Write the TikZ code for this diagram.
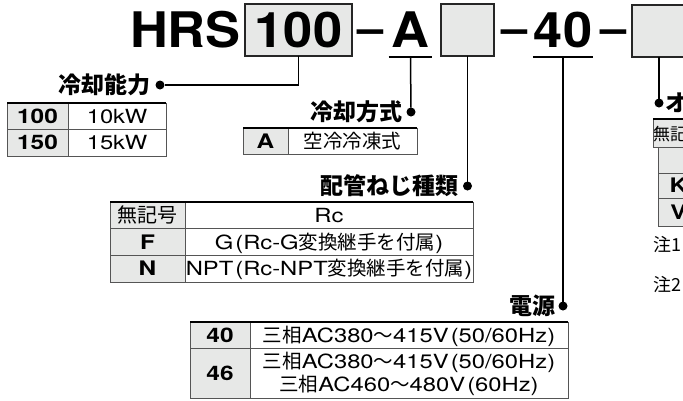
\documentclass[tikz,border=0pt]{standalone}
\usepackage{fontspec}
\setmainfont{TeX Gyre Heros}[FakeStretch=1.22]
\newfontfamily\hv{TeX Gyre Heros}[FakeStretch=1.07]
\newfontfamily\jp{Noto Sans CJK JP}
\usetikzlibrary{positioning}
\definecolor{boxgray}{HTML}{E7E8E7}
\definecolor{rulegray}{HTML}{555555}
\newcommand{\jtext}[1]{{\jp#1}}
\newcommand{\lpar}{\hspace{2pt}(}

\begin{document}
\begin{tikzpicture}[x=1pt,y=-1pt,every node/.style={inner sep=0pt,outer sep=0pt},
  ttl/.style={font=\hv\fontsize{49}{49}\selectfont\bfseries,text height=35pt,text depth=0pt},
  ttlbox/.style={ttl,draw=black!85,line width=1.4pt,fill=boxgray,minimum height=52pt},
  sep/.style={font=\hv\fontsize{44}{44}\selectfont\bfseries},
  lbl/.style={font=\jp\bfseries\fontsize{23}{23}\selectfont},
  dot/.style={circle,fill=black,minimum size=9pt},
  txt/.style={font=\fontsize{19.5}{20}\selectfont,text height=14.6pt,text depth=0.2pt},
  cell/.style={draw=rulegray,line width=1pt,minimum height=26pt},
  desc/.style={cell,txt},
  code/.style={cell,fill=boxgray,font=\fontsize{20}{20}\selectfont\bfseries,text height=14.6pt,text depth=0.2pt},
  toprule/.style={line width=1.8pt},
  link/.style={line width=1.5pt}]
  \useasboundingbox (0,0) rectangle (683,400);

  \node[ttl,anchor=base west] (hrs) at (130,47) {HRS};
  \node[ttlbox,minimum width=107pt] (b1) at (298.5,30) {100};
  \node[sep,anchor=base] (s1) at (371,43) {–};
  \node[ttl,anchor=base] (a) at (410.5,47) {A};
  \node[ttlbox,minimum width=53pt] (b2) at (467.5,30) {};
  \node[sep,anchor=base] (s2) at (515,43) {–};
  \node[ttl,anchor=base] (n40) at (563,47) {40};
  \node[sep,anchor=base] (s3) at (613.5,43) {–};
  \node[ttlbox,minimum width=54pt] (b3) at (659,31) {};

  \draw[line width=1.8pt] ([xshift=-3pt,yshift=-10pt]a.base west) -- ([xshift=3pt,yshift=-10pt]a.base east);
  \draw[line width=1.8pt] ([xshift=-1pt,yshift=-10pt]n40.base west) -- ([xshift=1pt,yshift=-10pt]n40.base east);
  \coordinate (ua) at ([yshift=-10pt]a.base);
  \coordinate (u40) at ([yshift=-10pt]n40.base);

  \node[dot] (p1) at (160,85) {};
  \node[dot] (p2) at (411,112) {};
  \node[dot] (p3) at (467.5,186) {};
  \node[dot] (p4) at (563,306) {};
  \node[dot] (p5) at (659,103) {};
  \draw[link] (b1) |- (p1);
  \draw[link] (ua) -- (p2);
  \draw[link] (b2) -- (p3);
  \draw[link] (u40) -- (p4);
  \draw[link] (b3) -- (p5);

  \node[lbl,left=5pt of p1] (l1) {冷却能力};
  \node[lbl,left=4pt of p2] (l2) {冷却方式};
  \node[lbl,left=5pt of p3] (l3) {配管ねじ種類};
  \node[lbl,left=3pt of p4] (l4) {電源};
  \node[lbl,right=2pt of p5] (l5) {オ};

  \node[code,minimum width=61pt,minimum height=26.5pt,anchor=north west] (t1a) at (7,103) {100};
  \node[desc,minimum width=98pt,minimum height=26.5pt,right=0pt of t1a] (t1b) {10kW};
  \node[code,minimum width=61pt,minimum height=26.5pt,below=0pt of t1a] (t1c) {150};
  \node[desc,minimum width=98pt,minimum height=26.5pt,right=0pt of t1c] (t1d) {15kW};
  \draw[toprule] (t1a.north west) -- (t1b.north east);

  \node[code,minimum width=45pt,anchor=north west] (t2a) at (243,128) {A};
  \node[desc,minimum width=129pt,right=0pt of t2a] (t2b) {\jtext{空冷冷凍式}};
  \draw[toprule] (t2a.north west) -- (t2b.north east);

  \node[code,minimum width=75pt,minimum height=26.7pt,anchor=north west,font=\jp\fontsize{20}{20}\selectfont] (t3a) at (110,202) {無記号};
  \node[desc,minimum width=288pt,minimum height=26.7pt,right=0pt of t3a] (t3b) {Rc};
  \node[code,minimum width=75pt,minimum height=26.7pt,below=0pt of t3a] (t3c) {F};
  \node[desc,minimum width=288pt,minimum height=26.7pt,right=0pt of t3c] (t3d) {G\lpar Rc-G\jtext{変換継手を付属})};
  \node[code,minimum width=75pt,minimum height=26.7pt,below=0pt of t3c] (t3e) {N};
  \node[desc,minimum width=288pt,minimum height=26.7pt,right=0pt of t3e] (t3f) {NPT\lpar Rc-NPT\jtext{変換継手を付属})};
  \draw[toprule] (t3a.north west) -- (t3b.north east);

  \node[code,minimum width=60pt,anchor=north west] (t4a) at (190,322) {40};
  \node[desc,minimum width=318pt,right=0pt of t4a] (t4b) {\jtext{三相}AC380\jtext{～}415V\lpar 50/60Hz)};
  \node[code,minimum width=60pt,minimum height=50pt,below=0pt of t4a] (t4c) {46};
  \node[cell,minimum width=318pt,minimum height=50pt,right=0pt of t4c] (t4d) {};
  \node[txt] (t4e) at ([yshift=11.5pt]t4d.center) {\jtext{三相}AC380\jtext{～}415V\lpar 50/60Hz)};
  \node[txt] (t4f) at ([yshift=-11.5pt]t4d.center) {\jtext{三相}AC460\jtext{～}480V\lpar 60Hz)};
  \draw[toprule] (t4a.north west) -- (t4b.north east);

  \node[code,minimum width=40pt,minimum height=28pt,anchor=north west,font=\jp\fontsize{17}{17}\selectfont] (t5a) at (653,119) {無記号};
  \node[code,minimum width=40pt,minimum height=26pt,below=0pt of t5a] (t5b) {};
  \node[code,minimum width=40pt,minimum height=25pt,below=0pt of t5b] (t5c) {K};
  \node[code,minimum width=40pt,minimum height=28pt,below=0pt of t5c] (t5d) {V};
  \draw[toprule] (t5a.north west) -- (t5a.north east);

  \node[font=\jp\fontsize{18}{18}\selectfont,anchor=west] (n1) at (653,245) {注1};
  \node[font=\jp\fontsize{18}{18}\selectfont,anchor=west] (n2) at (653,285) {注2};
\end{tikzpicture}
\end{document}
